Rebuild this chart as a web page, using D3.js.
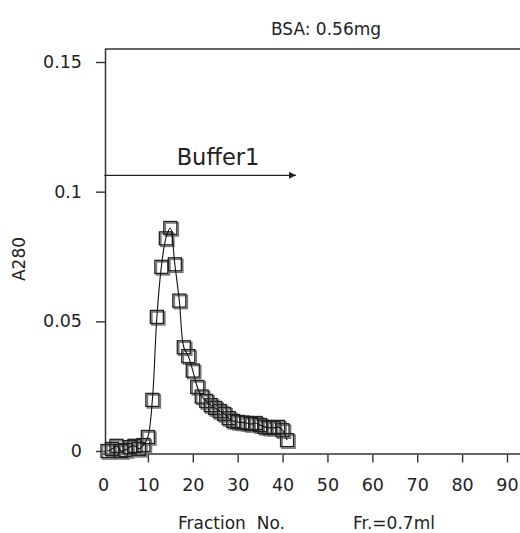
<!DOCTYPE html>
<html>
<head>
<meta charset="utf-8">
<script src="https://cdn.jsdelivr.net/npm/d3@7"></script>
<style>
  html, body { margin: 0; padding: 0; background: #fff; }
  svg { display: block; }
  text { font-family: "DejaVu Sans", Verdana, sans-serif; fill: #222; }
</style>
</head>
<body>
<svg id="chart" width="520" height="533"></svg>
<script>
// ---- data ----
const fractions = [1,2,3,4,5,6,7,8,9,10,11,12,13,14,15,16,17,18,19,20,21,22,23,24,25,26,27,28,29,30,31,32,33,34,35,36,37,38,39,40,41];
const a280 = [0,0.0008,0.002,0,0.0004,0.0015,0.002,0.0008,0.0023,0.0054,0.0197,0.0517,0.071,0.082,0.086,0.072,0.058,0.040,0.0366,0.031,0.0247,0.021,0.0193,0.0177,0.0166,0.0154,0.0143,0.0127,0.0116,0.0112,0.011,0.0108,0.0104,0.0108,0.010,0.0093,0.009,0.0089,0.0093,0.008,0.0042];
const xTicks = [0,10,20,30,40,50,60,70,80,90];
const yTicks = [0,0.05,0.1,0.15];
const yTickLabels = ["0","0.05","0.1","0.15"];
const titleText = "BSA: 0.56mg";
const yLabel = "A280";
const xLabel = "Fraction  No.";
const xNote = "Fr.=0.7ml";
const bufferLabel = "Buffer1";
const bufferRange = [0.3, 43];
const bufferLevel = 0.1063;

// ---- layout ----
const svg = d3.select("#chart");
const x = d3.scaleLinear().domain([0, 90]).range([103, 507]);
const y = d3.scaleLinear().domain([0, 0.15]).range([451, 62]);
const axisColor = "#333";

// frame: top line, left axis, bottom axis
svg.append("line").attr("x1", 105.5).attr("x2", 520).attr("y1", 49).attr("y2", 49)
  .attr("stroke", axisColor).attr("stroke-width", 1.5);
svg.append("line").attr("x1", 105.5).attr("x2", 105.5).attr("y1", 48.5).attr("y2", 455)
  .attr("stroke", axisColor).attr("stroke-width", 1.5);
svg.append("line").attr("x1", 103).attr("x2", 520).attr("y1", 454).attr("y2", 454)
  .attr("stroke", axisColor).attr("stroke-width", 1.5);

// y axis
const yAxis = d3.axisLeft(y).tickValues(yTicks).tickSize(9).tickPadding(14)
  .tickFormat((d, i) => yTickLabels[i]);
const gy = svg.append("g").attr("transform", "translate(105,0)").call(yAxis);
gy.select(".domain").remove();
gy.selectAll(".tick line").attr("stroke", axisColor).attr("stroke-width", 1.4);
gy.selectAll(".tick text").attr("font-size", 17.5).attr("fill", "#222")
  .attr("font-family", "DejaVu Sans, Verdana, sans-serif");

// x axis
const xAxis = d3.axisBottom(x).tickValues(xTicks).tickSize(8).tickPadding(16);
const gx = svg.append("g").attr("transform", "translate(0,454.5)").call(xAxis);
gx.select(".domain").remove();
gx.selectAll(".tick line").attr("stroke", axisColor).attr("stroke-width", 1.4)
  .attr("opacity", d => d === 0 ? 0 : 1);
gx.selectAll(".tick text").attr("font-size", 17.5).attr("fill", "#222")
  .attr("font-family", "DejaVu Sans, Verdana, sans-serif");

// labels
svg.append("text").attr("x", 326).attr("y", 35).attr("text-anchor", "middle")
  .attr("font-size", 17).text(titleText);
svg.append("text").attr("transform", "translate(25,259) rotate(-90)")
  .attr("text-anchor", "middle").attr("font-size", 17).text(yLabel);
svg.append("text").attr("x", 178).attr("y", 529).attr("font-size", 17)
  .attr("xml:space", "preserve").style("white-space", "pre").text(xLabel);
svg.append("text").attr("x", 353).attr("y", 529).attr("font-size", 17).text(xNote);

// buffer arrow
const defs = svg.append("defs");
defs.append("marker").attr("id", "arrow").attr("viewBox", "0 0 10 10")
  .attr("refX", 10).attr("refY", 5).attr("markerWidth", 9).attr("markerHeight", 7)
  .attr("markerUnits", "userSpaceOnUse").attr("orient", "auto")
  .append("path").attr("d", "M0,0 L10,5 L0,10 z").attr("fill", "#222");
svg.append("line").attr("x1", x(bufferRange[0])).attr("x2", x(bufferRange[1]))
  .attr("y1", y(bufferLevel)).attr("y2", y(bufferLevel))
  .attr("stroke", "#222").attr("stroke-width", 1.2).attr("marker-end", "url(#arrow)");
svg.append("text").attr("x", 218).attr("y", 165).attr("text-anchor", "middle")
  .attr("font-family", "Liberation Sans, Arial, sans-serif").attr("font-size", 22.5)
  .text(bufferLabel);

// data
const pts = fractions.map((f, i) => [f, a280[i]]);
const s = 13;
const mk = svg.append("g");
mk.selectAll("rect.sh").data(pts).enter().append("rect")
  .attr("x", d => x(d[0]) - s/2 + 1.5).attr("y", d => y(d[1]) - s/2 + 1.5)
  .attr("width", s).attr("height", s)
  .attr("fill", "none").attr("stroke", "#777").attr("stroke-width", 1.6);
mk.selectAll("rect.fg").data(pts).enter().append("rect")
  .attr("x", d => x(d[0]) - s/2).attr("y", d => y(d[1]) - s/2)
  .attr("width", s).attr("height", s)
  .attr("fill", "none").attr("stroke", "#222").attr("stroke-width", 1.3);

const line = d3.line().x(d => x(d[0])).y(d => y(d[1])).curve(d3.curveCatmullRom.alpha(0.5));
svg.append("path").datum(pts).attr("d", line)
  .attr("fill", "none").attr("stroke", "#111").attr("stroke-width", 1.1);
</script>
</body>
</html>
